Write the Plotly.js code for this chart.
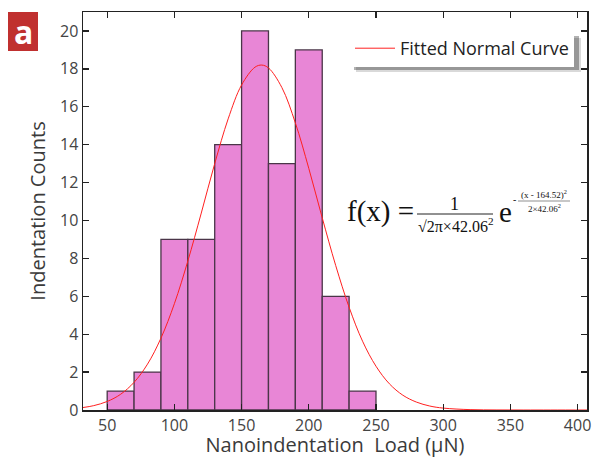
<!DOCTYPE html>
<html>
<head>
<meta charset="utf-8">
<script src="https://cdn.plot.ly/plotly-3.0.1.min.js"></script>
<style>html,body{margin:0;padding:0;background:#fff;}#chart{width:593px;height:458px;}</style>
</head>
<body>
<div id="chart"></div>
<script>
// Histogram bins (centers, width 20) and counts
const binCenters = [60, 80, 100, 120, 140, 160, 180, 200, 220, 240];
const binCounts  = [1, 2, 9, 9, 14, 20, 13, 19, 6, 1];
const binWidth = 20;

// Fitted normal curve
const curveX = [32, 40, 50, 60, 70, 80, 90, 100, 110, 120, 130, 140, 150, 160, 165, 170, 180, 190, 200, 210, 220, 230, 240, 250, 260, 270, 280, 290, 300, 320, 340, 360, 380, 407];
const curveY = [0.13, 0.23, 0.45, 0.83, 1.46, 2.42, 3.79, 5.61, 7.86, 10.39, 13.0, 15.36, 17.15, 18.09, 18.2, 18.05, 17.01, 15.15, 12.75, 10.14, 7.63, 5.42, 3.63, 2.31, 1.38, 0.78, 0.42, 0.21, 0.10, 0.02, 0.003, 0, 0, 0];

const xTicks = [50, 100, 150, 200, 250, 300, 350, 400];
const yTicks = [0, 2, 4, 6, 8, 10, 12, 14, 16, 18, 20];

const L = 83, R = 587, T = 12, B = 410;
const px = v => (v - L) / (R - L);
const py = v => (B - v) / (B - T);

const serif = "Liberation Serif, Times New Roman, serif";
const sans = "Open Sans, DejaVu Sans, sans-serif";

const traces = [
  {
    type: 'bar', x: binCenters, y: binCounts, width: binWidth,
    marker: {color: '#E886D6', line: {color: '#4a3548', width: 1.3}},
    showlegend: false, hoverinfo: 'skip'
  },
  {
    type: 'scatter', mode: 'lines', x: curveX, y: curveY,
    line: {color: '#ff2020', width: 1, shape: 'spline'},
    name: 'Fitted Normal Curve'
  }
];

const layout = {
  width: 593, height: 458,
  margin: {l: L, r: 593 - R, t: T, b: 458 - B},
  paper_bgcolor: '#fff', plot_bgcolor: '#fff',
  bargap: 0,
  xaxis: {
    range: [32, 407], tickvals: xTicks, ticktext: xTicks.map(String),
    ticks: 'inside', ticklen: 6, tickwidth: 1.3, tickcolor: '#222',
    showline: true, linecolor: '#222', linewidth: 1.5, mirror: 'ticks',
    showgrid: false, zeroline: false,
    tickfont: {family: sans, size: 16, color: '#444'},
    title: {text: 'Nanoindentation  Load (μN)', font: {family: sans, size: 20, color: '#3a3a3a'}, standoff: 6}
  },
  yaxis: {
    range: [0, 21], tickvals: yTicks, ticktext: yTicks.map(String),
    ticks: 'inside', ticklen: 6, tickwidth: 1.3, tickcolor: '#222',
    showline: true, linecolor: '#222', linewidth: 1.5, mirror: 'ticks',
    showgrid: false, zeroline: false,
    tickfont: {family: sans, size: 16, color: '#444'},
    title: {text: 'Indentation Counts', font: {family: sans, size: 20, color: '#3a3a3a'}, standoff: 9}
  },
  showlegend: true,
  legend: {
    x: px(350), y: py(30), xanchor: 'left', yanchor: 'top',
    bgcolor: '#ffffff', borderwidth: 0,
    font: {family: sans, size: 18, color: '#222'},
    itemwidth: 40
  },
  shapes: [
    // red label box
    {type: 'rect', xref: 'paper', yref: 'paper', x0: px(8), x1: px(38), y0: py(51), y1: py(12), fillcolor: '#C0302F', line: {width: 0}},
    // legend shadow
    {type: 'rect', xref: 'paper', yref: 'paper', x0: px(356), x1: px(581), y0: py(72), y1: py(38), fillcolor: 'rgba(0,0,0,0.15)', line: {width: 0}},
    {type: 'rect', xref: 'paper', yref: 'paper', x0: px(354), x1: px(579), y0: py(70), y1: py(36), fillcolor: 'rgba(0,0,0,0.3)', line: {width: 0}},
    // formula fraction lines
    {type: 'line', xref: 'paper', yref: 'paper', x0: px(417), x1: px(493), y0: py(214), y1: py(214), line: {color: '#222', width: 1}},
    {type: 'line', xref: 'paper', yref: 'paper', x0: px(518), x1: px(570), y0: py(201), y1: py(201), line: {color: '#444', width: 0.6}}
  ],
  annotations: [
    {text: '<b>a</b>', xref: 'paper', yref: 'paper', x: px(23), y: py(31), xanchor: 'center', yanchor: 'middle', showarrow: false, font: {family: sans, size: 32, color: '#fff'}},
    {text: 'f(x) =', xref: 'paper', yref: 'paper', x: px(345), y: py(211), xanchor: 'left', yanchor: 'middle', showarrow: false, font: {family: serif, size: 29, color: '#111'}},
    {text: '1', xref: 'paper', yref: 'paper', x: px(454), y: py(204), xanchor: 'center', yanchor: 'middle', showarrow: false, font: {family: serif, size: 18, color: '#111'}},
    {text: '√2π×42.06<sup>2</sup>', xref: 'paper', yref: 'paper', x: px(455), y: py(225), xanchor: 'center', yanchor: 'middle', showarrow: false, font: {family: serif, size: 16, color: '#111'}},
    {text: 'e', xref: 'paper', yref: 'paper', x: px(497), y: py(212), xanchor: 'left', yanchor: 'middle', showarrow: false, font: {family: serif, size: 29, color: '#111'}},
    {text: '-', xref: 'paper', yref: 'paper', x: px(514), y: py(199), xanchor: 'center', yanchor: 'middle', showarrow: false, font: {family: serif, size: 10, color: '#111'}},
    {text: '(x - 164.52)<sup>2</sup>', xref: 'paper', yref: 'paper', x: px(544), y: py(194), xanchor: 'center', yanchor: 'middle', showarrow: false, font: {family: serif, size: 9, color: '#111'}},
    {text: '2×42.06<sup>2</sup>', xref: 'paper', yref: 'paper', x: px(544), y: py(208), xanchor: 'center', yanchor: 'middle', showarrow: false, font: {family: serif, size: 9, color: '#111'}}
  ]
};

Plotly.newPlot('chart', traces, layout, {displayModeBar: false, staticPlot: true});
</script>
</body>
</html>
